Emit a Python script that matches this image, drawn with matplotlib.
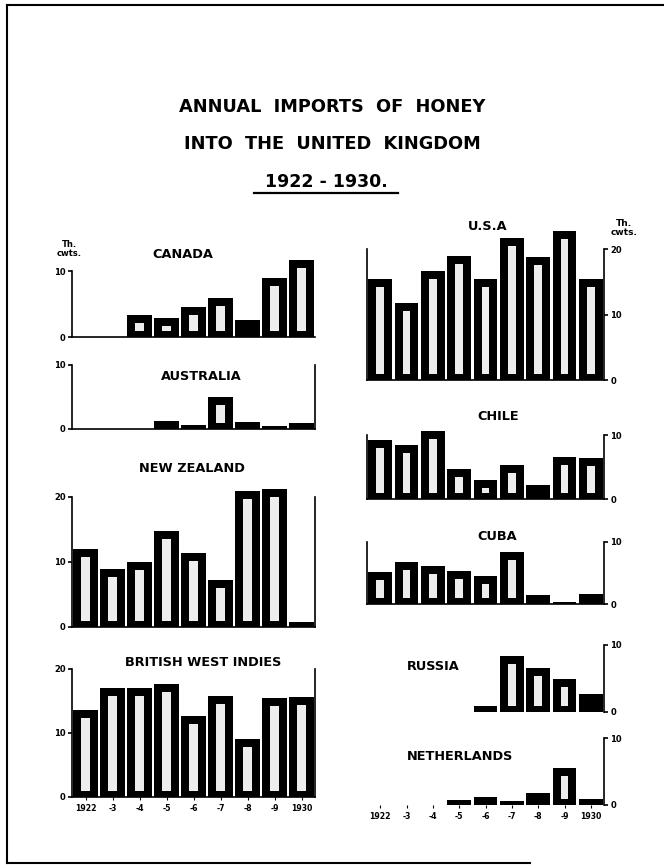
import numpy as np
import matplotlib
matplotlib.use('Agg')
import matplotlib.pyplot as plt
from matplotlib.lines import Line2D

plt.rcParams['font.family'] = ['DejaVu Sans']
plt.rcParams['font.weight'] = 'bold'

# 年份标签
years = ['1922', '-3', '-4', '-5', '-6', '-7', '-8', '-9', '1930']

# 各国进口量 (千英担)
canada = [0, 0, 3.3, 2.9, 4.5, 5.9, 2.6, 8.9, 11.7]
australia = [0, 0, 0, 1.2, 0.6, 5.0, 1.1, 0.5, 1.0]
new_zealand = [11.9, 8.8, 9.9, 14.7, 11.3, 7.2, 20.8, 21.2, 0.7]
west_indies = [13.6, 17.0, 17.0, 17.7, 12.6, 15.8, 9.0, 15.4, 15.6]
usa = [15.4, 11.8, 16.7, 19.0, 15.5, 21.7, 18.9, 22.8, 15.5]
chile = [9.3, 8.4, 10.7, 4.7, 3.0, 5.3, 2.3, 6.6, 6.5]
cuba = [5.1, 6.8, 6.1, 5.3, 4.5, 8.3, 1.4, 0.3, 1.6]
russia = [0, 0, 0, 0, 0.75, 8.25, 6.5, 4.9, 2.65]
netherlands = [0, 0, 0, 0.75, 1.15, 0.65, 1.75, 5.5, 0.85]

W, H = 664, 868
fig = plt.figure(figsize=(W / 100, H / 100), dpi=100)
fig.patch.set_facecolor('white')

INNER = '#ededed'
LW = 1.2


def fx(x):
    return x / W


def fy(y):
    return 1 - y / H


# 面板布局: 名称, 数据, 左/右像素, 零线像素, 每单位像素, ymax, 轴设置
panels = [
    dict(name='CANADA', vals=canada, x0=72, x1=315, zero=337, scale=6.6, ymax=12,
         side='left', spine=10, ticks=[0, 10], other=None, title=(183, 255), ha='center', base=True),
    dict(name='AUSTRALIA', vals=australia, x0=72, x1=315, zero=429, scale=6.4, ymax=10,
         side='left', spine=10, ticks=[0, 10], other=10, title=(201, 376), ha='center', base=True),
    dict(name='NEW ZEALAND', vals=new_zealand, x0=72, x1=315, zero=626.5, scale=6.5, ymax=21.5,
         side='left', spine=20, ticks=[0, 10, 20], other=20, title=(192, 469), ha='center', base=True),
    dict(name='BRITISH WEST INDIES', vals=west_indies, x0=72, x1=315, zero=797, scale=6.4, ymax=20,
         side='left', spine=20, ticks=[0, 10, 20], other=20, title=(203, 663), ha='center', base=True,
         xlabels=True),
    dict(name='U.S.A', vals=usa, x0=367, x1=604, zero=380, scale=6.53, ymax=23,
         side='right', spine=20, ticks=[0, 10, 20], other=20, title=(488, 227), ha='center', base=True),
    dict(name='CHILE', vals=chile, x0=367, x1=604, zero=499.5, scale=6.43, ymax=10.8,
         side='right', spine=10, ticks=[0, 10], other=10, title=(498, 417), ha='center', base=True),
    dict(name='CUBA', vals=cuba, x0=367, x1=604, zero=604, scale=6.25, ymax=10,
         side='right', spine=10, ticks=[0, 10], other=10, title=(497, 537), ha='center', base=True),
    dict(name='RUSSIA', vals=russia, x0=367, x1=604, zero=711.5, scale=6.67, ymax=10,
         side='right', spine=10, ticks=[0, 10], other=None, title=(407, 667), ha='left', base=False),
    dict(name='NETHERLANDS', vals=netherlands, x0=367, x1=604, zero=805, scale=6.67, ymax=10,
         side='right', spine=10, ticks=[0, 10], other=None, title=(407, 757), ha='left', base=False,
         xlabels=True),
]

x = np.arange(len(years))

for p in panels:
    top_px = p['zero'] - p['ymax'] * p['scale']
    ax = fig.add_axes([fx(p['x0']), fy(p['zero']), fx(p['x1'] - p['x0']), (p['zero'] - top_px) / H])
    ax.set_facecolor('none')
    ax.set_xlim(-0.5, 8.5)
    ax.set_ylim(0, p['ymax'])

    vals = np.array(p['vals'], dtype=float)
    ax.bar(x, vals, width=0.9, color='black', linewidth=0, zorder=2)

    # 柱内浅色芯
    t_in = 8 / p['scale']
    b_in = 6 / p['scale']
    inner = np.where(vals - t_in - b_in > 0.6, vals - t_in - b_in, 0)
    ax.bar(x, inner, bottom=b_in, width=0.3, color=INNER, linewidth=0, zorder=3)

    for s in ['top', 'left', 'right', 'bottom']:
        ax.spines[s].set_visible(False)
        ax.spines[s].set_linewidth(LW)

    main = p['side']
    other_side = 'right' if main == 'left' else 'left'
    ax.spines[main].set_visible(True)
    ax.spines[main].set_bounds(0, p['spine'])
    if p['other'] is not None:
        ax.spines[other_side].set_visible(True)
        ax.spines[other_side].set_bounds(0, p['other'])
    if p['base']:
        ax.spines['bottom'].set_visible(True)

    ax.set_yticks(p['ticks'])
    ax.set_yticklabels([str(t) for t in p['ticks']], fontsize=6, fontweight='bold')
    if main == 'left':
        ax.yaxis.tick_left()
    else:
        ax.yaxis.tick_right()
    ax.tick_params(axis='y', length=3, width=LW, pad=1.5)

    if p.get('xlabels'):
        ax.set_xticks(x)
        ax.set_xticklabels(years, fontsize=5.6, fontweight='bold')
        ax.tick_params(axis='x', length=2, width=0.8, pad=3)
    else:
        ax.set_xticks([])

    fig.text(fx(p['title'][0]), fy(p['title'][1]), p['name'], ha=p['ha'], va='center',
             fontsize=9.3, fontweight='bold')

# 单位标注
fig.text(fx(69), fy(249), 'Th.\ncwts.', ha='center', va='center', fontsize=6,
         fontweight='bold', linespacing=0.95)
fig.text(fx(624), fy(228), 'Th.\ncwts.', ha='center', va='center', fontsize=6.5,
         fontweight='bold', linespacing=0.95)

# 标题
fig.text(0.5, fy(107), 'ANNUAL  IMPORTS  OF  HONEY', ha='center', va='center',
         fontsize=12.8, fontweight='bold')
fig.text(0.5, fy(144), 'INTO  THE  UNITED  KINGDOM', ha='center', va='center',
         fontsize=12.8, fontweight='bold')
fig.text(fx(326), fy(182), '1922 - 1930.', ha='center', va='center',
         fontsize=12.5, fontweight='bold')
fig.add_artist(Line2D([fx(254), fx(398)], [fy(193), fy(193)], color='black', lw=1.6))

# 外框
fig.add_artist(Line2D([fx(7), fx(664)], [fy(5), fy(5)], color='black', lw=1.5))
fig.add_artist(Line2D([fx(7), fx(7)], [fy(5), fy(863)], color='black', lw=1.5))
fig.add_artist(Line2D([fx(7), fx(530)], [fy(863), fy(863)], color='black', lw=1.5))

fig.savefig('out.png', dpi=100)
